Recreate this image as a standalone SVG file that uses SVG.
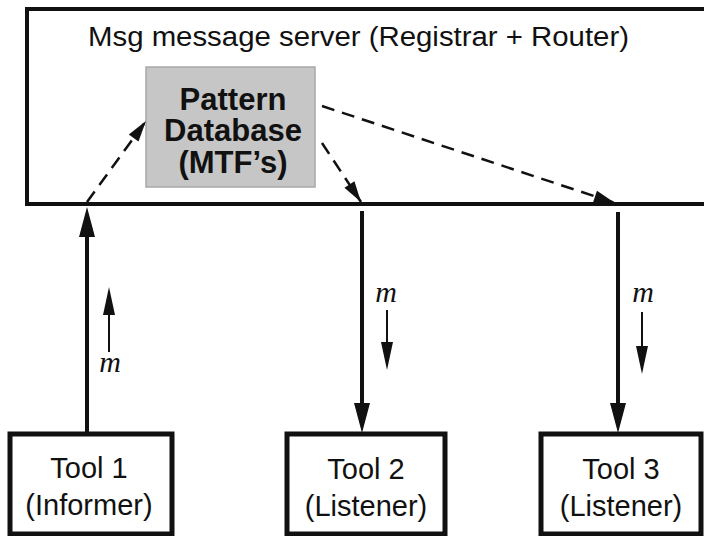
<svg xmlns="http://www.w3.org/2000/svg" width="704" height="536" viewBox="0 0 704 536">
<style>
.box{fill:#fff;stroke:#111;stroke-width:5}
.srv{fill:none;stroke:#111;stroke-width:4}
.db{fill:#c6c6c6;stroke:#a8a8a8;stroke-width:1.5}
.lbl{font-family:"Liberation Sans",Arial,sans-serif;font-size:29px;fill:#111;text-anchor:middle}
.title{font-family:"Liberation Sans",Arial,sans-serif;font-size:27px;fill:#111}
.dbt{font-family:"Liberation Sans",Arial,sans-serif;font-size:31px;font-weight:bold;fill:#111;text-anchor:middle}
.m{font-family:"Liberation Serif","Times New Roman",serif;font-style:italic;font-size:30px;fill:#111;text-anchor:middle}
.main{stroke:#111;stroke-width:4;fill:none}
.small{stroke:#111;stroke-width:2;fill:none}
.dash{stroke:#111;stroke-width:2.5;fill:none;stroke-dasharray:13 8}
</style>
<defs>
<marker id="big" markerUnits="userSpaceOnUse" markerWidth="30" markerHeight="16" refX="0" refY="8" orient="auto" overflow="visible"><path d="M0,0 L30,8 L0,16 z" fill="#111"/></marker>
<marker id="sm" markerUnits="userSpaceOnUse" markerWidth="28" markerHeight="12" refX="0" refY="6" orient="auto" overflow="visible"><path d="M0,0 L28,6 L0,12 z" fill="#111"/></marker>
<marker id="dh" markerUnits="userSpaceOnUse" markerWidth="21" markerHeight="12" refX="21" refY="6" orient="auto" overflow="visible"><path d="M0,0 L21,6 L0,12 z" fill="#111"/></marker>
</defs>
<rect width="704" height="536" fill="#fff"/>
<g id="server">
<rect class="srv" x="27" y="9" width="700" height="195"/>
<text class="title" x="88" y="46" textLength="541" lengthAdjust="spacingAndGlyphs">Msg message server (Registrar + Router)</text>
</g>
<g id="patterndb">
<rect class="db" x="146" y="67" width="169" height="120"/>
<text class="dbt" x="233" y="110">Pattern</text>
<text class="dbt" x="233" y="141">Database</text>
<text class="dbt" x="233" y="173">(MTF’s)</text>
</g>
<g id="tool1">
<rect class="box" x="10" y="434" width="162" height="100"/>
<text class="lbl" x="89" y="478">Tool 1</text>
<text class="lbl" x="89" y="515">(Informer)</text>
</g>
<g id="tool2">
<rect class="box" x="287" y="434" width="158" height="100"/>
<text class="lbl" x="366" y="479">Tool 2</text>
<text class="lbl" x="366" y="516">(Listener)</text>
</g>
<g id="tool3">
<rect class="box" x="541" y="434" width="160" height="100"/>
<text class="lbl" x="621" y="479">Tool 3</text>
<text class="lbl" x="621" y="516">(Listener)</text>
</g>
<g id="connectors">
<line class="main" x1="87" y1="432" x2="87" y2="237" marker-end="url(#big)"/>
<line class="main" x1="362" y1="211" x2="362" y2="403" marker-end="url(#big)"/>
<line class="main" x1="618" y1="212" x2="618" y2="403" marker-end="url(#big)"/>
<line class="dash" x1="87" y1="202" x2="146" y2="121" marker-end="url(#dh)"/>
<line class="dash" x1="322" y1="143" x2="361" y2="202" marker-end="url(#dh)"/>
<line class="dash" x1="322" y1="106" x2="615" y2="203" marker-end="url(#dh)"/>
<line class="small" x1="109" y1="352" x2="109" y2="315" marker-end="url(#sm)"/>
<line class="small" x1="387" y1="310" x2="387" y2="342" marker-end="url(#sm)"/>
<line class="small" x1="642" y1="312" x2="642" y2="346" marker-end="url(#sm)"/>
<text class="m" x="110" y="372">m</text>
<text class="m" x="386" y="302">m</text>
<text class="m" x="643" y="302">m</text>
</g>
</svg>
